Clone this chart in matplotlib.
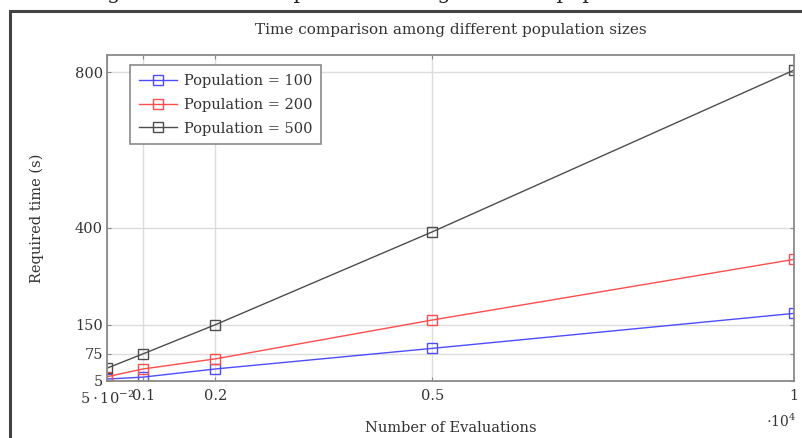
import matplotlib
matplotlib.use("Agg")
import matplotlib.pyplot as plt
from matplotlib.patches import Rectangle

# evaluations (x 10^4) and required time in seconds
evaluations = [0.05, 0.1, 0.2, 0.5, 1.0]
pop_100 = [10, 15, 36, 89, 179]
pop_200 = [16, 36, 62, 162, 318]
pop_500 = [38, 75, 150, 389, 805]

x_ticks = [0.05, 0.1, 0.2, 0.5, 1.0]
x_tick_labels = [r"$5\cdot10^{-2}$", "0.1", "0.2", "0.5", "1"]
y_ticks = [5, 75, 150, 400, 800]

plt.rcParams["font.family"] = ["DejaVu Serif"]
plt.rcParams["mathtext.fontset"] = "dejavuserif"

W, H = 802, 438
FS = 10.5
fig = plt.figure(figsize=(W / 100, H / 100), dpi=100)

# page frame around the figure
fig.patches.append(Rectangle((10 / W, -0.1), 1.2, 1 - 11 / H + 0.1, transform=fig.transFigure,
                             fill=False, edgecolor="#444444", linewidth=2.2))

# cut-off caption from the page above
fig.text(86 / W, 1 + 1 / H, "Figure 7: Time comparison among different population sizes",
         fontsize=15, va="baseline", ha="left", color="#222222")

ax = fig.add_axes([107 / W, (H - 381) / H, (794 - 107) / W, (381 - 55) / H])

ax.plot(evaluations, pop_100, color="#4d4dff", lw=1, marker="s", ms=6.5, mfc="none", mew=1,
        label="Population = 100")
ax.plot(evaluations, pop_200, color="#ff4d4d", lw=1, marker="s", ms=6.5, mfc="none", mew=1,
        label="Population = 200")
ax.plot(evaluations, pop_500, color="#4d4d4d", lw=1, marker="s", ms=6.5, mfc="none", mew=1,
        label="Population = 500")

ax.set_xlim(0.05, 1.0)
ax.set_ylim(5, 844)
ax.set_xticks(x_ticks)
ax.set_xticklabels(x_tick_labels)
ax.set_yticks(y_ticks)
ax.grid(True, color="#dcdcdc", lw=1)
ax.set_axisbelow(True)
for s in ax.spines.values():
    s.set_color("#8a8a8a")
    s.set_linewidth(1.3)
ax.tick_params(direction="in", length=3, color="#8a8a8a", labelsize=FS, labelcolor="#333333",
               top=True, right=True)
ax.tick_params(axis="x", pad=6)
ax.tick_params(axis="y", pad=3)

ax.set_title("Time comparison among different population sizes", fontsize=11, color="#333333", pad=15)
ax.set_xlabel("Number of Evaluations", fontsize=FS, color="#333333", labelpad=10)
ax.set_ylabel("Required time (s)", fontsize=FS, color="#333333", labelpad=22)
ax.text(1.004, -0.125, r"$\cdot10^{4}$", transform=ax.transAxes, ha="right", va="center",
        fontsize=10, color="#333333")

leg = ax.legend(loc="upper left", bbox_to_anchor=(23 / 687, 1 - 10 / 326), fontsize=FS,
                fancybox=False, edgecolor="#8a8a8a", framealpha=1, borderaxespad=0,
                handlelength=2.6, handletextpad=0.5, labelspacing=0.68, borderpad=0.6)
leg.get_frame().set_linewidth(1.2)
for t in leg.get_texts():
    t.set_color("#333333")

fig.savefig("out.png", dpi=100)
